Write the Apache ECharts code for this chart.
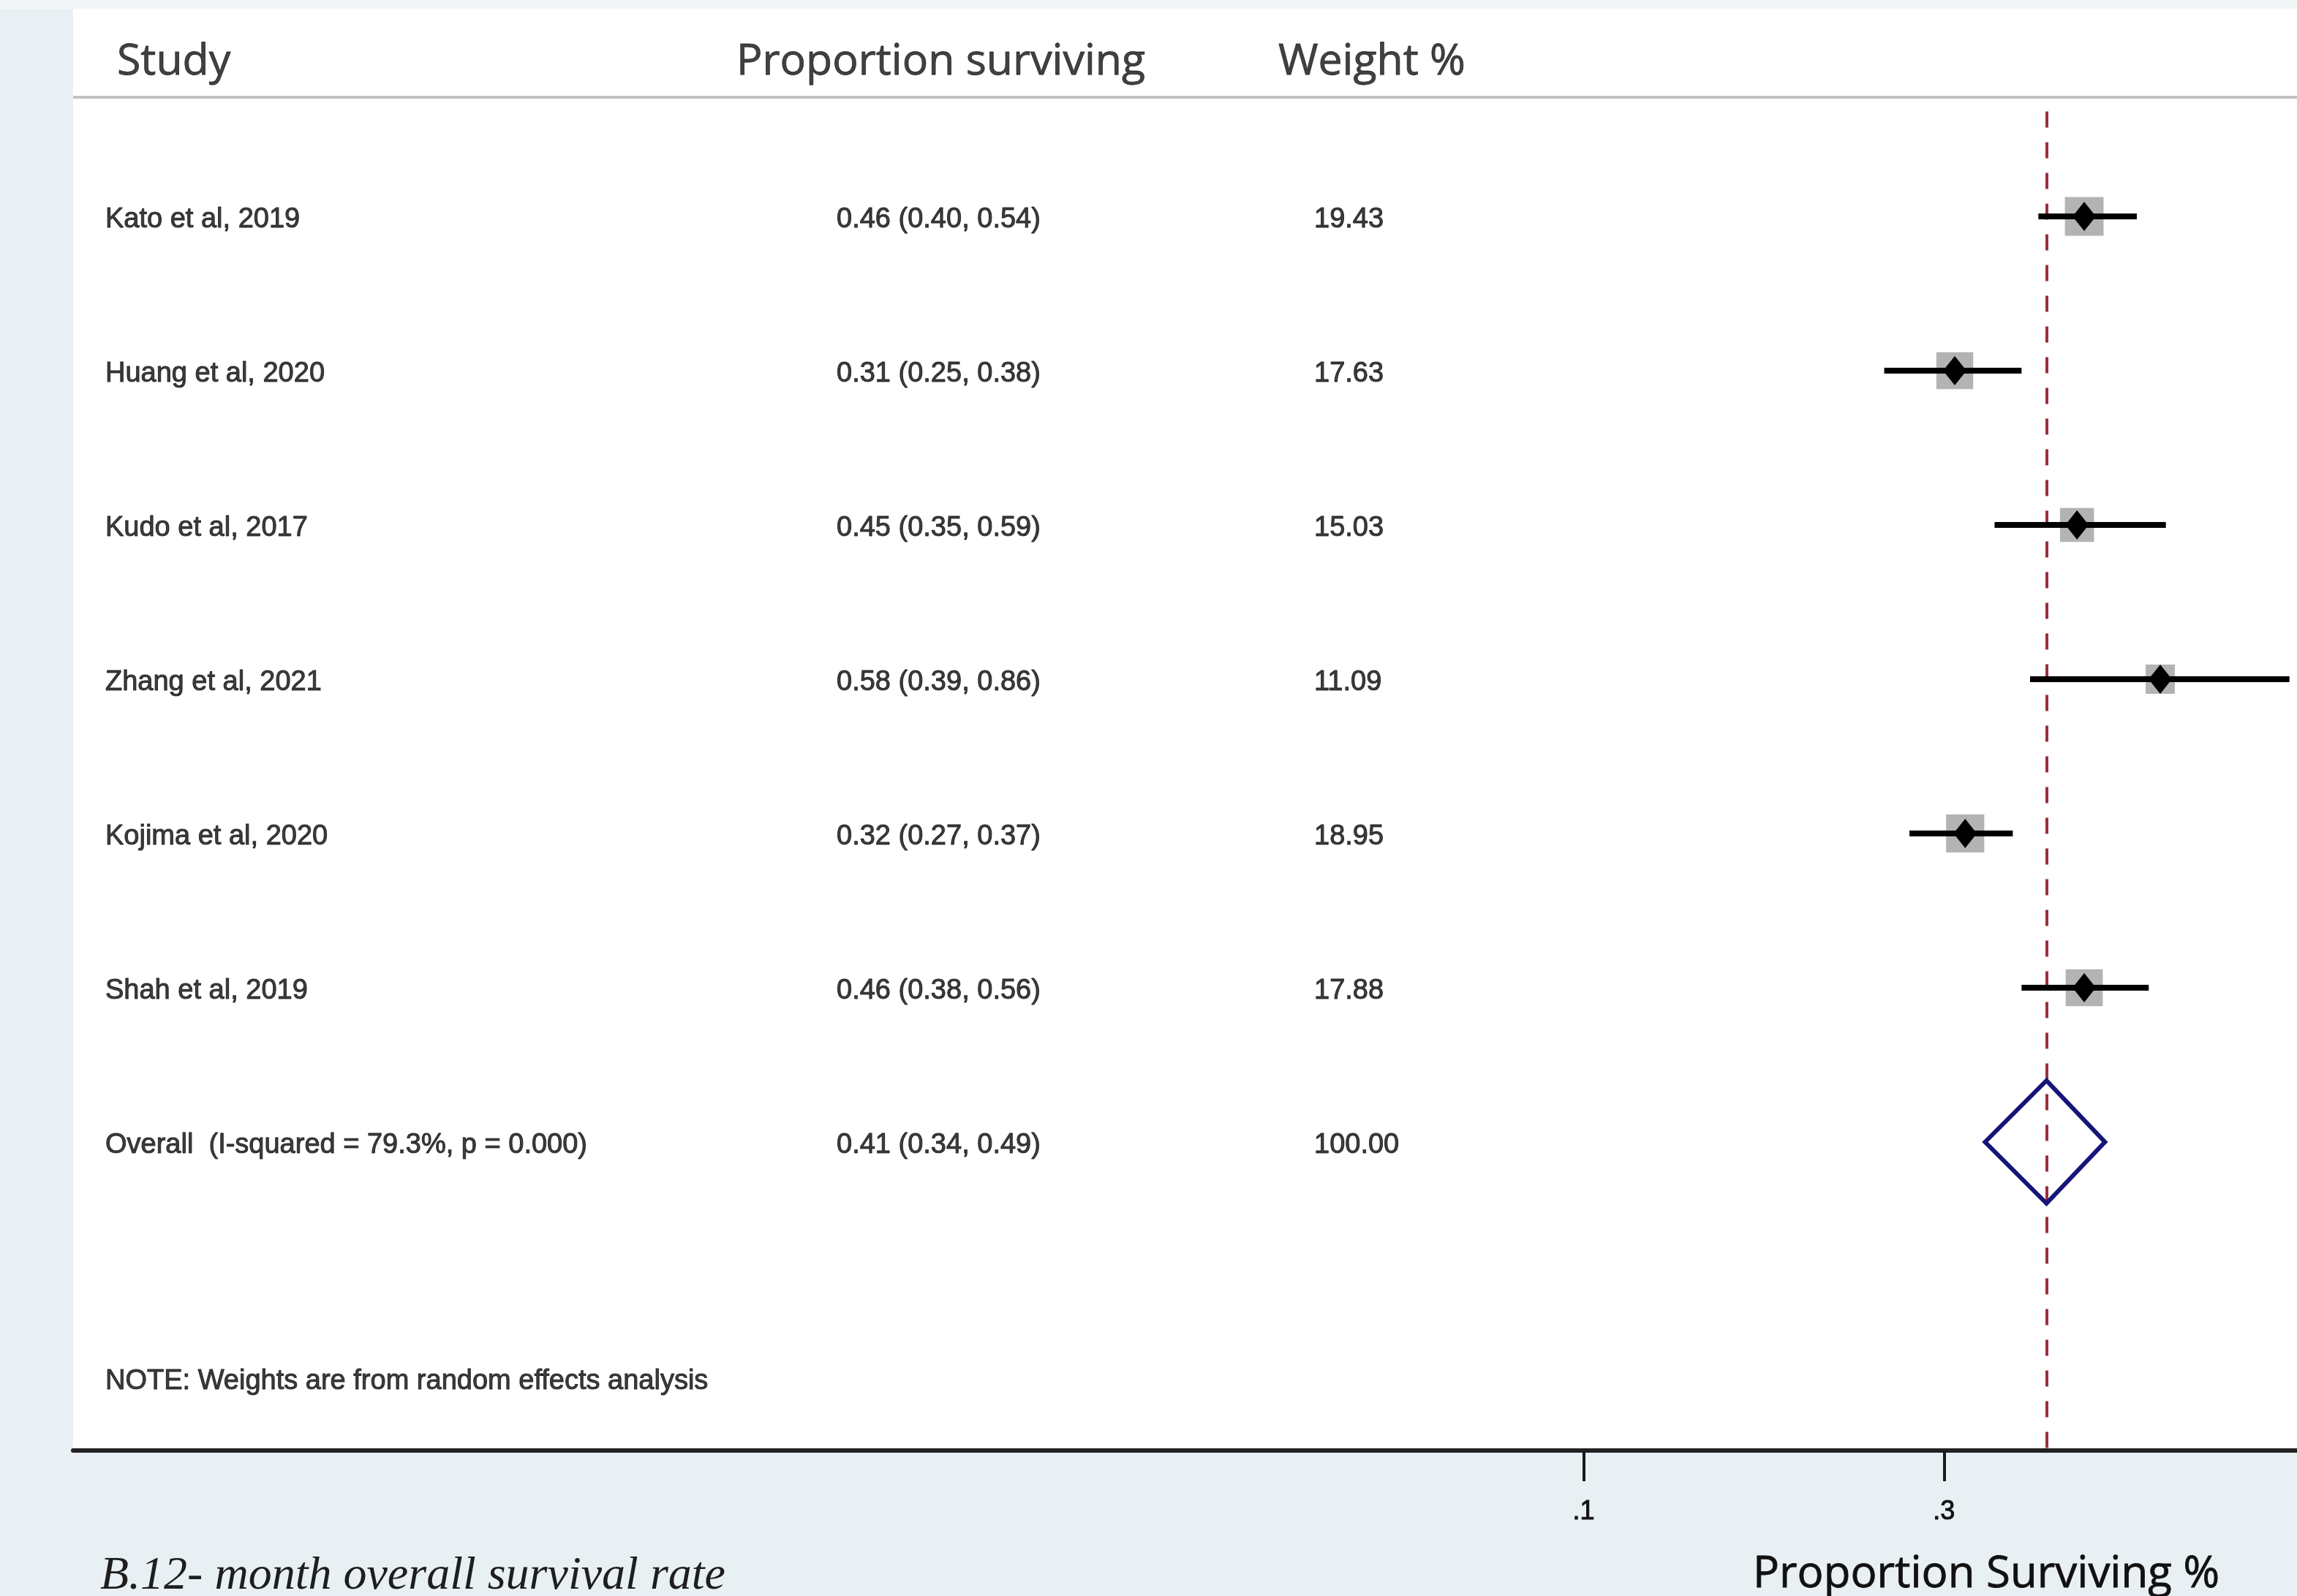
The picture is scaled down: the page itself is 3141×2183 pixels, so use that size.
<!DOCTYPE html>
<html>
<head>
<meta charset="utf-8">
<style>
  html, body { margin: 0; padding: 0; background: #e9f0f3; }
  #chart { width: 3141px; height: 2183px; }
</style>
<script src="https://cdn.jsdelivr.net/npm/echarts@6/dist/echarts.min.js"></script>
</head>
<body>
<div id="chart"></div>
<script>
// ---------------- data ----------------
const studies = ['Kato et al, 2019', 'Huang et al, 2020', 'Kudo et al, 2017', 'Zhang et al, 2021', 'Kojima et al, 2020', 'Shah et al, 2019'];
const estimates = [0.46, 0.31, 0.45, 0.58, 0.32, 0.46];
const lowerCI = [0.40, 0.25, 0.35, 0.39, 0.27, 0.38];
const upperCI = [0.54, 0.38, 0.59, 0.86, 0.37, 0.56];
const weights = [19.43, 17.63, 15.03, 11.09, 18.95, 17.88];
const overallLabel = 'Overall  (I-squared = 79.3%, p = 0.000)';
const overallEst = 0.41;
const overallLower = 0.34;
const overallUpper = 0.49;
const overallWeight = '100.00';
const headers = ['Study', 'Proportion surviving', 'Weight %'];
const noteText = 'NOTE: Weights are from random effects analysis';
const tickValues = [0.1, 0.3];
const tickLabels = ['.1', '.3'];
const axisMin = 0.001;
const axisMax = 0.88;
const axisTitle = 'Proportion Surviving %';
const caption = 'B.12- month overall survival rate';

// ---------------- layout ----------------
const L = {
  gridTop: 85, gridBottomY: 1984, plotLeft: 100,
  colStudy: 144, colEst: 1144, colWeight: 1797,
  hdrStudy: 160, hdrEst: 1007, hdrWeight: 1748,
  noteRow: 7.53, boxScale: 12.0
};
const rowFont = 'Liberation Sans, Arial, sans-serif';
const hdrFont = '"Open Sans", sans-serif';

const fmt = v => v.toFixed(2);
const nRows = studies.length;

const ciData = studies.map((s, i) => [estimates[i], lowerCI[i], upperCI[i], i, weights[i]]);
const overallRow = nRows;

const studyText = studies.map((s, i) => [L.colStudy, i, s]).concat([[L.colStudy, overallRow, overallLabel], [L.colStudy, L.noteRow, noteText]]);
const estText = studies.map((s, i) => [L.colEst, i, `${fmt(estimates[i])} (${fmt(lowerCI[i])}, ${fmt(upperCI[i])})`])
  .concat([[L.colEst, overallRow, `${fmt(overallEst)} (${fmt(overallLower)}, ${fmt(overallUpper)})`]]);
const wText = weights.map((w, i) => [L.colWeight, i, fmt(w)]).concat([[L.colWeight, overallRow, overallWeight]]);
const hdrText = [[L.hdrStudy, -1, headers[0]], [L.hdrEst, -1, headers[1]], [L.hdrWeight, -1, headers[2]]];

const textSeries = (data, font, size, dy, color, stroke) => ({
  type: 'scatter', xAxisIndex: 1, yAxisIndex: 1, symbolSize: 0, silent: true,
  data: data,
  label: {
    show: true, position: 'right', distance: 0, offset: [0, dy],
    formatter: p => p.data[2],
    fontFamily: font, fontSize: size, color: color,
    textBorderColor: color, textBorderWidth: stroke
  }
});

const chart = echarts.init(document.getElementById('chart'), null, { renderer: 'canvas' });
const gridH = L.gridBottomY - L.gridTop;

chart.setOption({
  backgroundColor: '#e9f0f3',
  animation: false,
  graphic: [
    { type: 'rect', shape: { x: 0, y: 0, width: 3141, height: 12 }, style: { fill: '#f2f6f7' }, z: -10 },
    { type: 'rect', shape: { x: 100, y: 12, width: 3041, height: L.gridBottomY - 12 }, style: { fill: '#ffffff' }, z: -10 },
    { type: 'rect', shape: { x: 100, y: 131, width: 3041, height: 4 }, style: { fill: '#c2c2c2' }, z: -5 },
    { type: 'text', x: 137, y: 2156, style: { text: caption, font: 'italic 64px "Liberation Serif", serif', fill: '#1e1e1e', textVerticalAlign: 'middle', verticalAlign: 'middle' } },
    { type: 'text', x: 2397, y: 2154, style: { text: axisTitle, font: '60px "Open Sans", sans-serif', fill: '#111', stroke: '#111', lineWidth: 0.8, textVerticalAlign: 'middle', verticalAlign: 'middle' } }
  ],
  grid: [
    { left: L.plotLeft, top: L.gridTop, right: 0, height: gridH },
    { left: 0, top: L.gridTop, right: 0, height: gridH }
  ],
  xAxis: [
    {
      type: 'log', logBase: 10, min: axisMin, max: axisMax, gridIndex: 0,
      axisLine: { show: true, onZero: false, lineStyle: { color: '#222', width: 6 } },
      axisTick: { show: true, customValues: tickValues, length: 42, lineStyle: { color: '#1a1a1a', width: 4 } },
      axisLabel: {
        show: true, customValues: tickValues, margin: 66,
        formatter: v => { const k = tickValues.findIndex(t => Math.abs(t - v) < 1e-9); return k >= 0 ? tickLabels[k] : ''; },
        fontFamily: rowFont, fontSize: 36, color: '#111', textBorderColor: '#111', textBorderWidth: 1
      },
      splitLine: { show: false }, minorTick: { show: false }
    },
    { type: 'value', min: 0, max: 3141, gridIndex: 1, show: false }
  ],
  yAxis: [
    { type: 'value', min: -1, max: 8, inverse: true, gridIndex: 0, show: false },
    { type: 'value', min: -1, max: 8, inverse: true, gridIndex: 1, show: false }
  ],
  series: [
    {
      type: 'custom', xAxisIndex: 0, yAxisIndex: 0, silent: true,
      data: ciData,
      encode: { x: [0, 1, 2], y: 3 },
      renderItem: (params, api) => {
        const row = api.value(3);
        const pe = api.coord([api.value(0), row]);
        const pl = api.coord([api.value(1), row]);
        const ph = api.coord([api.value(2), row]);
        const b = L.boxScale * Math.sqrt(api.value(4));
        return {
          type: 'group',
          children: [
            { type: 'rect', shape: { x: pe[0] - b / 2, y: pe[1] - b / 2, width: b, height: b }, style: { fill: '#b3b3b3' } },
            { type: 'line', shape: { x1: pl[0], y1: pl[1], x2: ph[0], y2: ph[1] }, style: { stroke: '#000', lineWidth: 8 } },
            { type: 'polygon', shape: { points: [[pe[0], pe[1] - 20], [pe[0] + 16, pe[1]], [pe[0], pe[1] + 20], [pe[0] - 16, pe[1]]] }, style: { fill: '#000' } }
          ]
        };
      }
    },
    {
      type: 'custom', xAxisIndex: 0, yAxisIndex: 0, silent: true,
      data: [[overallEst, overallLower, overallUpper, overallRow]],
      encode: { x: [0, 1, 2], y: 3 },
      renderItem: (params, api) => {
        const row = api.value(3);
        const pe = api.coord([api.value(0), row]);
        const pl = api.coord([api.value(1), row]);
        const ph = api.coord([api.value(2), row]);
        const h = 84;
        return {
          type: 'polygon',
          shape: { points: [[pl[0], pl[1]], [pe[0], pe[1] - h], [ph[0], ph[1]], [pe[0], pe[1] + h]] },
          style: { fill: 'none', stroke: '#15157a', lineWidth: 6, lineJoin: 'miter' }
        };
      },
      markLine: {
        silent: true, symbol: 'none', z: 1,
        label: { show: false },
        lineStyle: { color: '#9b2f3c', width: 4, type: [22, 20] },
        data: [[{ coord: [overallEst, -0.68] }, { coord: [overallEst, 8] }]]
      }
    },
    textSeries(hdrText, hdrFont, 59, 0, '#111', 0.8),
    textSeries(studyText, rowFont, 38, 5, '#0d0d0d', 1),
    textSeries(estText, rowFont, 38, 5, '#0d0d0d', 1),
    textSeries(wText, rowFont, 38, 5, '#0d0d0d', 1)
  ]
});
</script>
</body>
</html>
